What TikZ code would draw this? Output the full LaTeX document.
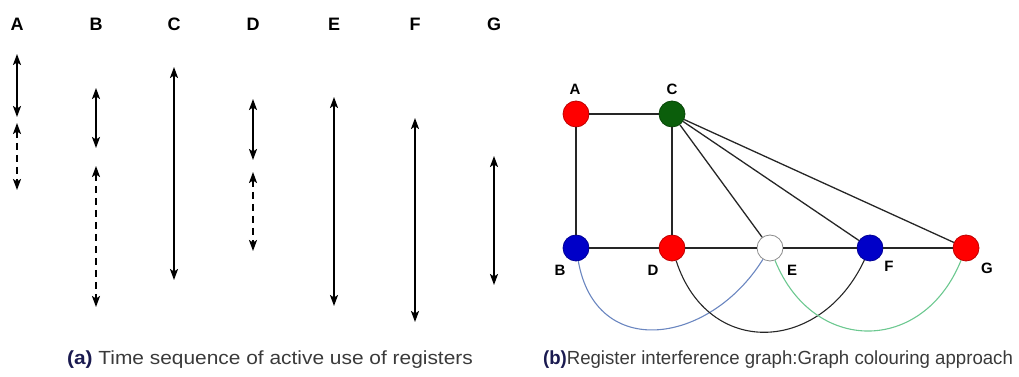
\documentclass[tikz,border=0pt]{standalone}
\usepackage{fontspec}
\usepackage{graphicx}
\setmainfont{Liberation Sans}
\usetikzlibrary{arrows.meta}
\definecolor{capnavy}{HTML}{1A1A50}
\definecolor{capgray}{HTML}{3A3A3A}
\definecolor{vred}{HTML}{FF0000}
\definecolor{vgreen}{HTML}{0B5E0B}
\definecolor{vblue}{HTML}{0000C8}
\definecolor{cblue}{HTML}{6A86C0}
\definecolor{cgreen}{HTML}{6CC890}
\begin{document}
\begin{tikzpicture}[x=1pt,y=1pt,
  reg/.style={font=\fontsize{18}{18}\selectfont\bfseries},
  vlab/.style={font=\fontsize{15}{15}\selectfont\bfseries},
  life/.style={line width=1.8pt, {Stealth[length=11pt,width=8pt,inset=2.5pt]}-{Stealth[length=11pt,width=8pt,inset=2.5pt]}},
  lifed/.style={life, dash pattern=on 7pt off 5pt},
  vert/.style={circle, minimum size=26pt, inner sep=0pt, draw=#1!75!black, fill=#1, line width=0.8pt},
  edge/.style={line width=1.3pt, black!85},
  captxt/.style={font=\fontsize{19}{19}\selectfont, text=capgray}
]
\useasboundingbox (0,0) rectangle (1019,377);
% ---------- (a) lifetimes ----------
\foreach \n/\x in {A/17,B/96,C/174,D/253,E/334,F/415,G/494}
  \node[reg] (l\n) at (\x,353) {\n};
\coordinate (A1t) at (17,323); \coordinate (A1b) at (17,260);
\coordinate (A2t) at (17,254); \coordinate (A2b) at (17,187);
\coordinate (B1t) at (96,289); \coordinate (B1b) at (96,229);
\coordinate (B2t) at (96,211); \coordinate (B2b) at (96,70);
\coordinate (C1t) at (174,310); \coordinate (C1b) at (174,97);
\coordinate (D1t) at (253,278); \coordinate (D1b) at (253,217);
\coordinate (D2t) at (253,205); \coordinate (D2b) at (253,126);
\coordinate (E1t) at (334,280); \coordinate (E1b) at (334,71);
\coordinate (F1t) at (415,259); \coordinate (F1b) at (415,55);
\coordinate (G1t) at (494,221); \coordinate (G1b) at (494,92);
\draw[life] (A1t) -- (A1b);
\draw[lifed] (A2t) -- (A2b);
\draw[life] (B1t) -- (B1b);
\draw[lifed] (B2t) -- (B2b);
\draw[life] (C1t) -- (C1b);
\draw[life] (D1t) -- (D1b);
\draw[lifed] (D2t) -- (D2b);
\draw[life] (E1t) -- (E1b);
\draw[life] (F1t) -- (F1b);
\draw[life] (G1t) -- (G1b);
\node[captxt] (capa) at (270,17) {\scalebox{1.1}[1]{\textbf{\color{capnavy}(a)} Time sequence of active use of registers}};
% ---------- (b) graph ----------
\node[vert=vred] (A) at (576,263) {};
\node[vert=vgreen] (C) at (672,263) {};
\node[vert=vblue] (B) at (576,129) {};
\node[vert=vred] (D) at (672,129) {};
\node[circle, minimum size=26pt, inner sep=0pt, draw=black!45, fill=white, line width=0.8pt] (E) at (770,129) {};
\node[vert=vblue] (F) at (870,129) {};
\node[vert=vred] (G) at (966,129) {};
\node[vlab] (tA) at (575,288) {A};
\node[vlab] (tC) at (672,288) {C};
\node[vlab] (tB) at (560,107) {B};
\node[vlab] (tD) at (653,107) {D};
\node[vlab] (tE) at (792,107) {E};
\node[vlab] (tF) at (889,111) {F};
\node[vlab] (tG) at (987,109) {G};
\draw[edge] (A) -- (C);
\draw[edge] (A) -- (B);
\draw[edge] (C) -- (D);
\draw[edge] (C) -- (E);
\draw[edge] (C) -- (F);
\draw[edge] (C) -- (G);
\draw[edge] (B) -- (D);
\draw[edge] (D) -- (E);
\draw[edge] (E) -- (F);
\draw[edge] (F) -- (G);
\draw[line width=1.1pt, cblue] (B) to[out=-80,in=-122,looseness=1.4] (E);
\draw[line width=1.1pt, black!85] (D) to[out=-72,in=-115,looseness=1.4] (F);
\draw[line width=1.1pt, cgreen] (E) to[out=-68,in=-112,looseness=1.4] (G);
\node[captxt] (capb) at (778,17) {\scalebox{0.98}[1]{\textbf{\color{capnavy}(b)}Register interference graph:Graph colouring approach}};
\end{tikzpicture}
\end{document}
